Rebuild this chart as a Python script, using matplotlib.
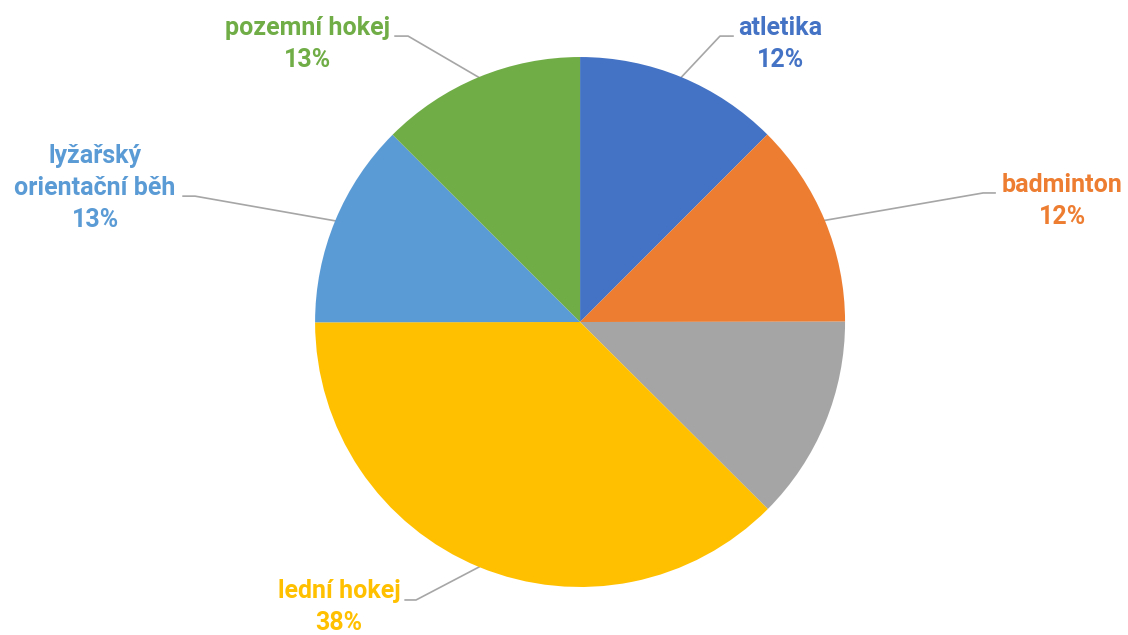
import matplotlib
matplotlib.use("Agg")
import matplotlib.pyplot as plt
import numpy as np

plt.rcParams['font.family'] = ['Roboto', 'DejaVu Sans']

# data (clockwise from 12 o'clock)
categories = ['atletika', 'badminton', '', 'lední hokej', 'lyžařský\norientační běh', 'pozemní hokej']
values = [12.49, 12.49, 12.49, 37.51, 12.51, 12.51]
colors = ['#4472C4', '#ED7D31', '#A5A5A5', '#FFC000', '#5B9BD5', '#70AD47']

# label layout: (text centre, elbow start, elbow end) in data units of the pie
label_layout = {
    0: ((0.755, 1.049), (0.577, 1.079), (0.528, 1.079)),
    1: ((1.819, 0.457), (1.566, 0.487), (1.521, 0.487)),
    3: ((-0.909, -1.075), (-0.660, -1.049), (-0.619, -1.049)),
    4: ((-1.830, 0.506), (-1.498, 0.475), (-1.453, 0.475)),
    5: ((-1.030, 1.049), (-0.698, 1.079), (-0.649, 1.079)),
}

fig = plt.figure(figsize=(11.28, 6.35), dpi=100)
ax = fig.add_axes([0.2793, 0.0756, 0.4699, 0.8346])
wedges, _ = ax.pie(values, colors=colors, startangle=90, counterclock=False,
                   radius=1.0, wedgeprops=dict(linewidth=0))
ax.set_xlim(-1, 1)
ax.set_ylim(-1, 1)
ax.set_aspect('equal')
ax.axis('off')

total = sum(values)
for i, w in enumerate(wedges):
    if i not in label_layout:
        continue
    mid = np.deg2rad((w.theta1 + w.theta2) / 2)
    ex, ey = np.cos(mid), np.sin(mid)
    (tx, ty), (hx, hy), (kx, ky) = label_layout[i]
    ax.plot([ex, kx, hx], [ey, ky, hy], color='#A6A6A6', lw=1.2, clip_on=False, zorder=0)
    pct = round(values[i] / total * 100)
    ax.text(tx, ty, f"{categories[i]}\n{pct}%", ha='center', va='center',
            multialignment='center', color=colors[i], fontsize=18,
            fontweight='bold', linespacing=1.4)

fig.savefig('out.png', dpi=100)
